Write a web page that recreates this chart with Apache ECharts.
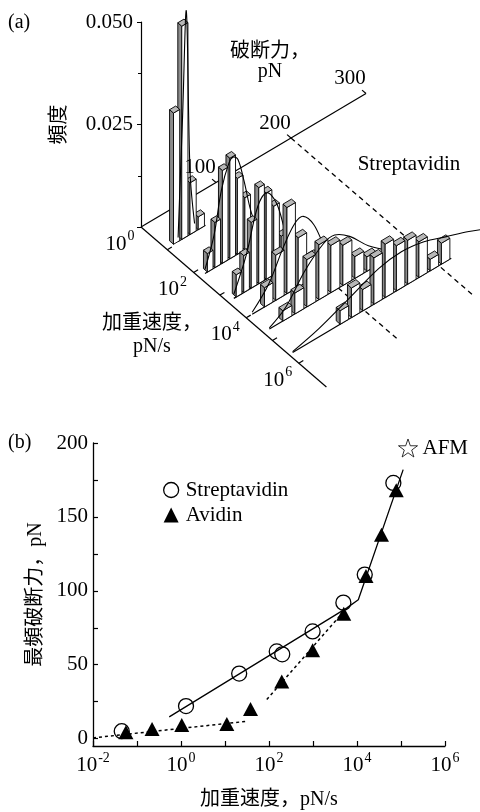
<!DOCTYPE html>
<html>
<head>
<meta charset="utf-8">
<script src="https://cdn.jsdelivr.net/npm/echarts@6.0.0/dist/echarts.min.js"></script>
<style>
  html, body { margin: 0; padding: 0; background: #fff; }
  #chart { width: 480px; height: 812px; }
</style>
</head>
<body>
<div id="chart"></div>
<script>
// ---------- (a) rupture-force histograms at several loading rates ----------
const rowRates = [9, 160, 2000, 10000, 45000, 420000]; // pN/s, back row first
const rowBinWidths = [11, 10, 10, 15, 16, 15]; // pN
const rowBinCenters = [
  [14, 25, 36, 47],
  [15, 25, 35, 45, 55, 65, 75, 85],
  [15, 25, 35, 45, 55, 65, 75, 85, 95],
  [30, 45, 60, 75, 90, 105],
  [32, 48, 64, 80, 96, 112, 128, 144],
  [74, 89, 104, 119, 134, 149, 164, 179, 194, 209]
];
const rowFreqs = [
  [0.032, 0.052, 0.0126, 0.0031],
  [0.0045, 0.011, 0.0226, 0.0245, 0.0185, 0.0127, 0.005, 0.0015],
  [0.0054, 0.009, 0.016, 0.0234, 0.021, 0.0167, 0.0083, 0.0035, 0.001],
  [0.0047, 0.011, 0.021, 0.012, 0.0054, 0.0015],
  [0.0025, 0.0051, 0.0115, 0.0134, 0.0115, 0.0098, 0.0053, 0.0035],
  [0.0033, 0.0072, 0.0052, 0.0113, 0.013, 0.011, 0.0107, 0.0087, 0.0028, 0.0051]
];
// fitted curves, points
const fitForces = [
  [16, 22, 27, 32, 38],
  [8, 20, 30, 40, 46, 52, 60, 70, 80, 92],
  [8, 25, 40, 52, 65, 80, 98],
  [8, 30, 50, 65, 76, 90, 110, 130],
  [8, 30, 55, 80, 95, 115, 140, 170],
  [5, 40, 80, 120, 150, 180, 210, 240, 262]
];
const fitFreqs = [
  [0.001, 0.03, 0.055, 0.015, 0.002],
  [0.001, 0.008, 0.018, 0.0235, 0.0243, 0.023, 0.017, 0.008, 0.003, 0.0005],
  [0.001, 0.009, 0.019, 0.021, 0.017, 0.007, 0.001],
  [0.0005, 0.005, 0.012, 0.016, 0.0165, 0.013, 0.004, 0.001],
  [0.0003, 0.003, 0.009, 0.013, 0.0135, 0.011, 0.006, 0.0015],
  [0.0002, 0.002, 0.005, 0.008, 0.0088, 0.008, 0.006, 0.004, 0.0022]
];
const forceTicks = [100, 200, 300];
const rateTickExps = [1, 2, 3, 4, 5, 6];
const rateLabelExps = [0, 2, 4, 6];
const guideForces = [200, 100];
const guideFromExps = [0, 4.65];
const guideToExps = [6.9, 6.9];
const forceAxisEnd = 300;
const rateAxisEnd = 7.05;

// ---------- (b) most probable rupture force vs loading rate ----------
const strepRates = [0.045, 1.3, 21, 150, 200, 980, 4900, 15000, 67000];
const strepForces = [5, 22, 44, 59, 57, 72.5, 92, 111, 173];
const avidinRates = [0.056, 0.22, 1.04, 11, 38, 195, 980, 5000, 16000, 36000, 78000];
const avidinForces = [4.3, 6.5, 9.2, 9.9, 20, 38.7, 59.7, 84.5, 110, 138, 168];
const strepFitRates = [0.54, 5800, 10700, 112000];
const strepFitForces = [14.7, 88.3, 93.9, 182];
const avidinFitLowRates = [0.01, 31];
const avidinFitLowForces = [0.5, 11.7];
const avidinFitHighRates = [89, 5000];
const avidinFitHighForces = [26.4, 86];
const forceTickValues = [0, 25, 50, 75, 100, 125, 150, 175, 200];
const forceLabelValues = [0, 50, 100, 150, 200];

const SERIF = '"Liberation Serif", "Noto Sans CJK JP", serif';
const chart = echarts.init(document.getElementById('chart'));

// oblique projection for (a): force goes up-right, rate goes down-right
const F_DX = 0.75, F_DY = 0.445;   // px per pN
const R_DX = 26.3, R_DY = 22.7;    // px per decade
const Z_PX = 4100;                 // px per unit frequency (matches y axis)
const BAR_DEPTH = 0.15;            // decades
function toPlane(f, lr, z) {
  return [F_DX * f + R_DX * lr, z + (F_DY * f - R_DY * lr) / Z_PX];
}

// "10" with a raised exponent
const powRich = {
  base: { fontSize: 21, fontFamily: SERIF, color: '#000', lineHeight: 25, verticalAlign: 'bottom' },
  sup: { fontSize: 14, fontFamily: SERIF, color: '#000', lineHeight: 15, verticalAlign: 'top', padding: [0, 0, 0, 1] }
};
const powText = e => '{base|10}{sup|' + e + '}';

function renderPanelA(params, api) {
  const i = params.dataIndex;
  const P = (f, lr, z) => api.coord(toPlane(f, lr, z));
  const kids = [];
  let z2 = i * 1000;
  const line = (pts, dash, width) => kids.push({
    type: 'polyline', z2: z2++, shape: { points: pts },
    style: { stroke: '#000', fill: null, lineWidth: width || 1.2, lineDash: dash || null }
  });
  const poly = (pts, fill) => kids.push({
    type: 'polygon', z2: z2++, shape: { points: pts },
    style: { fill: fill, stroke: '#000', lineWidth: 0.9 }
  });
  const text = (pt, str, rich) => kids.push({
    type: 'text', z2: z2++, x: pt[0], y: pt[1],
    style: { text: str, fontSize: 21, fontFamily: SERIF, fill: '#000', align: 'center', verticalAlign: 'middle', rich: rich }
  });

  if (i === 0) {
    // axes and guide lines
    line([P(0, 0, 0), P(forceAxisEnd, 0, 0)]);
    forceTicks.forEach(f => line([P(f, 0, 0), P(f, -0.15, 0)]));
    line([P(0, 0, 0), P(0, rateAxisEnd, 0)]);
    rateTickExps.forEach(e => line([P(0, e, 0), P(6, e, 0)]));
    guideForces.forEach((f, k) => line([P(f, guideFromExps[k], 0), P(f, guideToExps[k], 0)], [5, 4], 1.3));
  } else if (i <= rowRates.length) {
    const r = i - 1;
    const lr = Math.log10(rowRates[r]);
    const d1 = lr, d0 = lr - BAR_DEPTH;
    const cs = rowBinCenters[r], hs = rowFreqs[r];
    const w = rowBinWidths[r] * 0.75;
    const fStart = fitForces[r][0];
    const fEnd = cs[cs.length - 1] + rowBinWidths[r] / 2;
    line([P(fStart, d1, 0), P(fEnd, d1, 0)]);
    for (let k = cs.length - 1; k >= 0; k--) {
      const f0 = cs[k] - w / 2, f1 = cs[k] + w / 2, h = hs[k];
      poly([P(f0, d0, 0), P(f0, d1, 0), P(f0, d1, h), P(f0, d0, h)], '#8c8c8c');
      poly([P(f0, d1, 0), P(f1, d1, 0), P(f1, d1, h), P(f0, d1, h)], '#fff');
      poly([P(f0, d0, h), P(f1, d0, h), P(f1, d1, h), P(f0, d1, h)], '#b8b8b8');
    }
    kids.push({
      type: 'polyline', z2: z2++,
      shape: { points: fitForces[r].map((f, j) => P(f, d1, fitFreqs[r][j])), smooth: 0.35 },
      style: { stroke: '#000', fill: null, lineWidth: 1.1 }
    });
  } else {
    // tick labels of the oblique axes
    forceTicks.forEach(f => {
      const p = P(f, 0, 0);
      text([p[0] - 16, p[1] - 15], String(f));
    });
    rateLabelExps.forEach(e => {
      const p = P(0, e, 0);
      text([p[0] - 21, p[1] + 15], powText(e), powRich);
    });
  }
  return { type: 'group', children: kids };
}

const panelAItems = [];
for (let k = 0; k <= rowRates.length + 1; k++) panelAItems.push([k, 0]);

const zip = (xs, ys) => xs.map((x, k) => [x, ys[k]]);
const axisText = { color: '#000', fontFamily: SERIF, fontSize: 21 };

const option = {
  animation: false,
  backgroundColor: '#fff',
  grid: [
    { left: 141, top: 22, width: 330, height: 205 },
    { left: 93, top: 443, width: 352, height: 303 }
  ],
  xAxis: [
    { gridIndex: 0, type: 'value', min: 0, max: 330, show: false },
    {
      gridIndex: 1, type: 'log', logBase: 10, min: 0.01, max: 1e6, interval: 1, splitNumber: 8,
      name: '加重速度，pN/s', nameLocation: 'middle', nameGap: 44,
      nameTextStyle: { color: '#000', fontFamily: SERIF, fontSize: 20 },
      axisLine: { show: true, onZero: false, lineStyle: { color: '#000', width: 1.3 } },
      axisTick: { show: true, inside: true, length: 5, lineStyle: { color: '#000', width: 1.2 } },
      axisLabel: Object.assign({}, axisText, {
        margin: 5,
        formatter: v => {
          const e = Math.round(Math.log10(v));
          return e % 2 === 0 ? powText(e) : '';
        },
        rich: powRich
      }),
      splitLine: { show: false }
    }
  ],
  yAxis: [
    {
      gridIndex: 0, type: 'value', min: 0, max: 0.05, interval: 0.025,
      name: '頻度', nameLocation: 'middle', nameGap: 71,
      nameTextStyle: { color: '#000', fontFamily: SERIF, fontSize: 20 },
      axisLine: { show: true, lineStyle: { color: '#000', width: 1.2 } },
      axisTick: { show: true, length: 4, lineStyle: { color: '#000' } },
      minorTick: { show: true, splitNumber: 2, length: 3, lineStyle: { color: '#000' } },
      axisLabel: Object.assign({}, axisText, {
        margin: 8,
        formatter: v => (v === 0 ? '' : v.toFixed(3))
      }),
      splitLine: { show: false }
    },
    {
      gridIndex: 1, type: 'value', min: -5, max: 200,
      name: '最頻破断力，pN', nameLocation: 'middle', nameGap: 46,
      nameTextStyle: { color: '#000', fontFamily: SERIF, fontSize: 20 },
      axisLine: { show: true, onZero: false, lineStyle: { color: '#000', width: 1.3 } },
      axisTick: { show: true, inside: true, length: 5, customValues: forceTickValues, lineStyle: { color: '#000', width: 1.2 } },
      axisLabel: Object.assign({}, axisText, { margin: 5, customValues: forceLabelValues }),
      splitLine: { show: false }
    }
  ],
  legend: [
    {
      orient: 'vertical', left: 158, top: 474, itemGap: 3,
      itemWidth: 15, itemHeight: 15,
      textStyle: Object.assign({}, axisText, { lineHeight: 22, padding: [0, 0, 0, 2] }),
      data: [
        { name: 'Streptavidin', icon: 'circle', itemStyle: { color: '#fff', borderColor: '#000', borderWidth: 1.3 } },
        { name: 'Avidin', icon: 'triangle', itemStyle: { color: '#000' } }
      ]
    },
    {
      left: 393, top: 432, itemWidth: 19, itemHeight: 19,
      textStyle: Object.assign({}, axisText, { lineHeight: 22 }),
      data: [
        { name: 'AFM', icon: 'path://M12,1 L14.8,9.2 L23.5,9.2 L16.5,14.4 L19.1,22.8 L12,17.7 L4.9,22.8 L7.5,14.4 L0.5,9.2 L9.2,9.2 Z',
          itemStyle: { color: '#fff', borderColor: '#000', borderWidth: 1 } }
      ]
    }
  ],
  graphic: [
    { type: 'text', x: 8, y: 13, style: { text: '(a)', font: '20px ' + SERIF, fill: '#000' } },
    { type: 'text', x: 8, y: 433, style: { text: '(b)', font: '20px ' + SERIF, fill: '#000' } },
    { type: 'text', x: 270, y: 42, style: { text: '破断力，\npN', font: '20px ' + SERIF, fill: '#000', textAlign: 'center', lineHeight: 20 } },
    { type: 'text', x: 409, y: 154, style: { text: 'Streptavidin', font: '21px ' + SERIF, fill: '#000', textAlign: 'center' } },
    { type: 'text', x: 152, y: 312, style: { text: '加重速度，\npN/s', font: '20px ' + SERIF, fill: '#000', textAlign: 'center', lineHeight: 23 } }
  ],
  series: [
    {
      type: 'custom', name: 'histograms', coordinateSystem: 'cartesian2d',
      xAxisIndex: 0, yAxisIndex: 0, clip: false, silent: true,
      renderItem: renderPanelA, data: panelAItems
    },
    {
      type: 'line', name: 'strepFit', xAxisIndex: 1, yAxisIndex: 1, symbol: 'none', silent: true,
      lineStyle: { color: '#000', width: 1.3 }, data: zip(strepFitRates, strepFitForces)
    },
    {
      type: 'line', name: 'avidinFitLow', xAxisIndex: 1, yAxisIndex: 1, symbol: 'none', silent: true,
      lineStyle: { color: '#000', width: 1.5, type: [3, 3] }, data: zip(avidinFitLowRates, avidinFitLowForces)
    },
    {
      type: 'line', name: 'avidinFitHigh', xAxisIndex: 1, yAxisIndex: 1, symbol: 'none', silent: true,
      lineStyle: { color: '#000', width: 1.5, type: [3, 3] }, data: zip(avidinFitHighRates, avidinFitHighForces)
    },
    {
      type: 'scatter', name: 'Streptavidin', xAxisIndex: 1, yAxisIndex: 1,
      symbol: 'circle', symbolSize: 15,
      itemStyle: { color: '#fff', borderColor: '#000', borderWidth: 1.3, opacity: 1 },
      data: zip(strepRates, strepForces)
    },
    {
      type: 'scatter', name: 'Avidin', xAxisIndex: 1, yAxisIndex: 1,
      symbol: 'triangle', symbolSize: [15, 14],
      itemStyle: { color: '#000', opacity: 1 },
      data: zip(avidinRates, avidinForces)
    },
    { type: 'scatter', name: 'AFM', xAxisIndex: 1, yAxisIndex: 1, data: [] }
  ]
};

chart.setOption(option);
</script>
</body>
</html>
